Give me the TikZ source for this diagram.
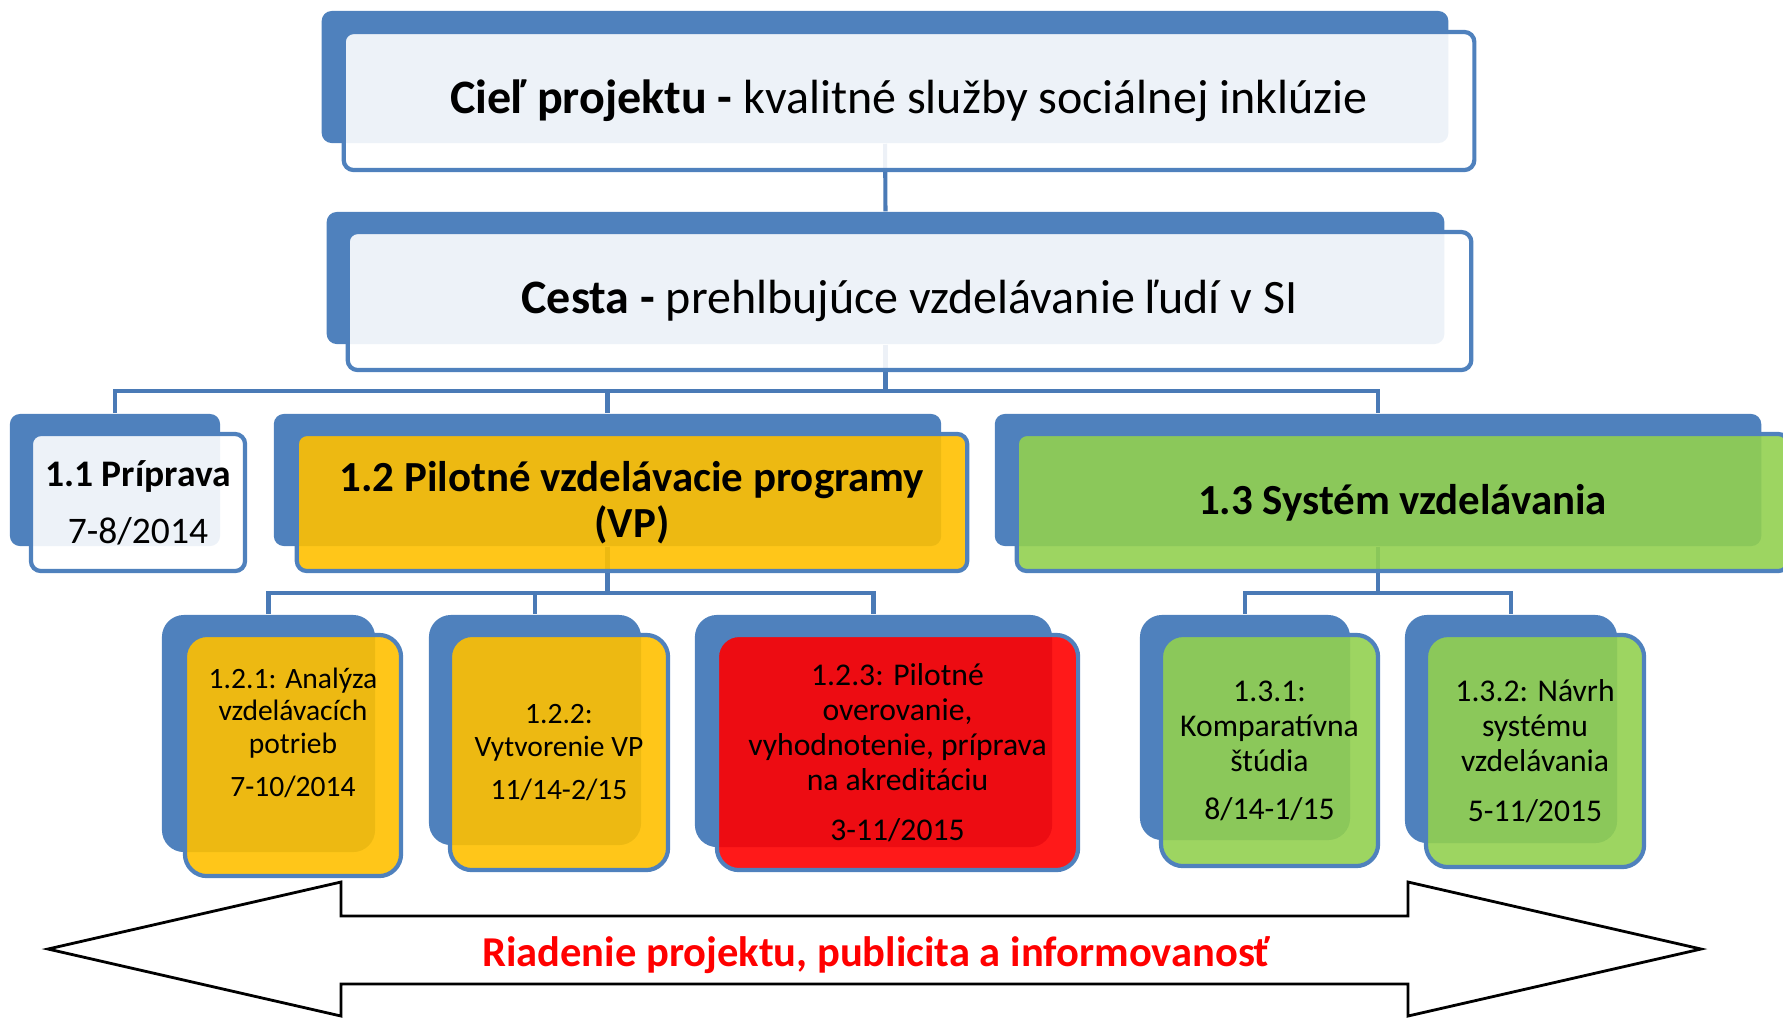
\documentclass[tikz,border=0pt]{standalone}
\usepackage{fontspec}
\setmainfont{Carlito}
\usepackage{tikz}
\usetikzlibrary{backgrounds}
\definecolor{boxblue}{HTML}{4F81BD}
\definecolor{linkblue}{HTML}{4A7AB6}
\definecolor{gold}{HTML}{FFC000}
\definecolor{leaf}{HTML}{92D050}
\definecolor{alarm}{HTML}{FF0000}

\begin{document}
\begin{tikzpicture}[x=0.01cm,y=-0.01cm,
  back/.style={fill=boxblue,rounded corners=0.1cm,inner sep=0pt},
  front/.style={draw=boxblue,line width=1.2pt,rounded corners=0.1cm,fill opacity=0.9,text opacity=1,align=center,inner sep=0pt},
  link/.style={draw=linkblue,line width=1.15pt},
  big/.style={font=\fontsize{13.65}{15.5}\selectfont},
  mid/.style={font=\fontsize{12.2}{13.1}\selectfont\bfseries},
  small/.style={rounded corners=0.22cm}]
  \useasboundingbox (0,0) rectangle (1783,1017);
  \clip (0,0) rectangle (1783,1017);
  \node[back,minimum width=11.26cm,minimum height=1.32cm] (goalb) at (885,77) {};
  \node[front,fill=white,big,minimum width=11.30cm,minimum height=1.38cm] (goal) at (909,101)
    {\textbf{Cieľ projektu -} kvalitné služby sociálnej inklúzie};
  \node[back,minimum width=11.17cm,minimum height=1.32cm] (wayb) at (885.5,278) {};
  \node[front,fill=white,big,minimum width=11.23cm,minimum height=1.38cm] (way) at (909.5,301)
    {\textbf{Cesta -} prehlbujúce vzdelávanie ľudí v SI};
  \node[back,minimum width=2.10cm,minimum height=1.32cm] (prepb) at (115,480) {};
  \node[front,fill=white,font=\fontsize{10.67}{12.5}\selectfont,minimum width=2.14cm,minimum height=1.37cm] (prep) at (138,502.5)
    {\textbf{1.1 Príprava}\\[3.7pt]7-8/2014};
  \node[back,minimum width=6.67cm,minimum height=1.32cm] (progb) at (607.5,480) {};
  \node[front,fill=gold,mid,minimum width=6.70cm,minimum height=1.37cm] (prog) at (632,502.5)
    {1.2 Pilotné vzdelávacie programy\\(VP)};
  \node[back,minimum width=7.66cm,minimum height=1.32cm] (sysb) at (1378,480) {};
  \node[front,fill=leaf,mid,minimum width=7.71cm,minimum height=1.37cm] (sys) at (1402.5,502.5)
    {1.3 Systém vzdelávania};
  \foreach \n/\bx/\by/\bw/\bh/\fx/\fy/\fw/\fh/\c/\fs/\fl/\t in {
    an/268.5/733.5/2.13/2.37/293/755.5/2.16/2.41/gold/8.4/9.3/{1.2.1: Analýza\\vzdelávacích\\potrieb\\[3pt]7-10/2014\\[4pt]\mbox{}},
    cr/535/730/2.12/2.30/559/752.5/2.18/2.35/gold/8.4/9.3/{1.2.2:\\Vytvorenie VP\\[3pt]11/14-2/15},
    pil/873.5/731/3.57/2.32/897.5/752.5/3.61/2.35/alarm/9/10/{1.2.3: Pilotné\\overovanie,\\vyhodnotenie, príprava\\na akreditáciu\\[4pt]3-11/2015},
    cmp/1245/727.5/2.10/2.25/1269.5/750.5/2.17/2.31/leaf/9/10/{1.3.1:\\Komparatívna\\štúdia\\[3.5pt]8/14-1/15},
    des/1511/729/2.12/2.28/1535/751/2.18/2.32/leaf/9/10/{1.3.2: Návrh\\systému\\vzdelávania\\[4pt]5-11/2015}} {
    \node[back,small,minimum width=\bw cm,minimum height=\bh cm] (\n b) at (\bx,\by) {};
    \node[front,small,fill=\c,font=\fontsize{\fs}{\fl}\selectfont,minimum width=\fw cm,minimum height=\fh cm] (\n) at (\fx,\fy) {\t};
  }
  \begin{scope}[on background layer]
    \draw[link] (goalb.south) -- (wayb.north);
    \foreach \k in {prepb,progb,sysb} \draw[link] (wayb.south) -- ++(0,46) -| (\k.north);
    \foreach \k in {anb,crb,pilb} \draw[link] (progb.south) -- ++(0,46) -| (\k.north);
    \foreach \k in {cmpb,desb} \draw[link] (sysb.south) -- ++(0,46) -| (\k.north);
  \end{scope}
  \draw[fill=white,line width=0.8pt] (48,949) -- (341,882) -- (341,916) -- (1408,916) -- (1408,882)
    -- (1701,949) -- (1408,1016) -- (1408,984) -- (341,984) -- (341,1016) -- cycle;
  \node[text=alarm,font=\fontsize{12.1}{14}\selectfont\bfseries] (mgmt) at (876,955)
    {Riadenie projektu, publicita a informovanosť};
\end{tikzpicture}
\end{document}
